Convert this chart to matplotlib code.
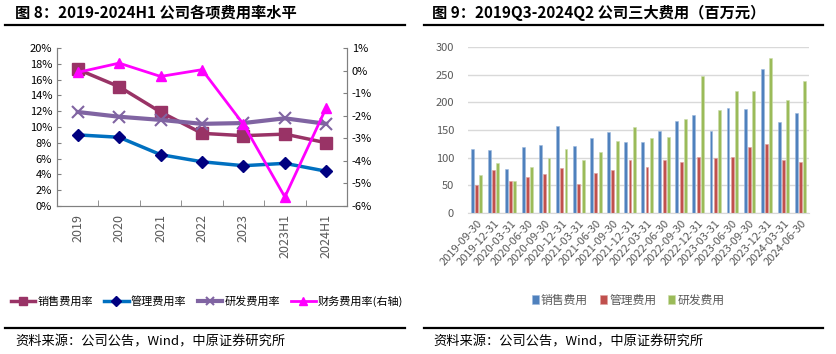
import numpy as np
import matplotlib
matplotlib.use('Agg')
import matplotlib.pyplot as plt
from matplotlib.lines import Line2D

plt.rcParams['font.family'] = ['Noto Sans CJK SC', 'DejaVu Sans']
plt.rcParams['axes.unicode_minus'] = False

# left chart data (expense ratios, %)
years = ['2019', '2020', '2021', '2022', '2023', '2023H1', '2024H1']
sales_rate = [17.3, 15.1, 11.9, 9.2, 8.9, 9.1, 8.0]
admin_rate = [9.0, 8.7, 6.5, 5.6, 5.1, 5.4, 4.4]
rd_rate = [11.9, 11.3, 10.9, 10.4, 10.5, 11.1, 10.4]
fin_rate = [-0.08, 0.33, -0.26, 0.04, -2.38, -5.6, -1.64]

# right chart data (million yuan)
quarters = ['2019-09-30', '2019-12-31', '2020-03-31', '2020-06-30', '2020-09-30',
            '2020-12-31', '2021-03-31', '2021-06-30', '2021-09-30', '2021-12-31',
            '2022-03-31', '2022-06-30', '2022-09-30', '2022-12-31', '2023-03-31',
            '2023-06-30', '2023-09-30', '2023-12-31', '2024-03-31', '2024-06-30']
sales_exp = [116, 114, 80, 120, 123, 158, 121, 136, 146, 128,
             129, 149, 166, 177, 148, 190, 188, 261, 165, 180]
admin_exp = [50, 77, 57, 65, 70, 82, 52, 72, 77, 95,
             83, 96, 93, 102, 100, 102, 119, 125, 96, 93]
rd_exp = [69, 90, 57, 83, 100, 116, 96, 111, 130, 155,
          135, 137, 169, 248, 186, 220, 220, 281, 205, 239]

W, H = 836, 354
fig = plt.figure(figsize=(W / 100, H / 100), dpi=100)

def box(x0, y0, x1, y1):
    return [x0 / W, 1 - y1 / H, (x1 - x0) / W, (y1 - y0) / H]

gray = '#595959'

# titles, rules and sources
fig.text(15 / W, 1 - 13 / H, '图 8：2019-2024H1 公司各项费用率水平', fontsize=11,
         fontweight='bold', va='center', ha='left')
fig.text(432 / W, 1 - 13 / H, '图 9：2019Q3-2024Q2 公司三大费用（百万元）', fontsize=11,
         fontweight='bold', va='center', ha='left')
for x0, x1 in [(5, 405), (424, 823)]:
    fig.add_artist(Line2D([x0 / W, x1 / W], [1 - 25 / H] * 2, color='black', lw=1.6))
    fig.add_artist(Line2D([x0 / W, x1 / W], [1 - 328 / H] * 2, color='black', lw=1.6))
fig.text(15 / W, 1 - 342 / H, '资料来源：公司公告，Wind，中原证券研究所', fontsize=9.5,
         va='center', ha='left')
fig.text(433 / W, 1 - 342 / H, '资料来源：公司公告，Wind，中原证券研究所', fontsize=9.5,
         va='center', ha='left')

# ---- left chart
ax = fig.add_axes(box(57, 48, 347, 206))
x = np.arange(len(years))
ax.plot(x, sales_rate, color='#993366', lw=2.5, marker='s', ms=8, label='销售费用率')
ax.plot(x, admin_rate, color='#0070C0', lw=2.5, marker='D', ms=6,
        mfc='#000080', mec='#000080', label='管理费用率')
ax.plot(x, rd_rate, color='#8064A2', lw=3, marker='x', ms=8, mew=1.5, label='研发费用率')
ax.set_xlim(-0.5, 6.5)
ax.set_ylim(0, 20)
ax.set_yticks(np.arange(0, 21, 2))
ax.set_yticklabels([f'{v}%' for v in range(0, 21, 2)])
ax.set_xticks(x)
ax.set_xticklabels(years, rotation=90, color=gray)
ax.set_xticks(np.arange(-0.5, 7, 1), minor=True)
ax.tick_params(axis='x', which='major', length=0, labelsize=9, pad=6)
ax.tick_params(axis='x', which='minor', direction='in', length=4, color='#808080')
ax.tick_params(axis='y', direction='in', length=3, labelsize=8, color='#808080')
ax.spines['top'].set_visible(False)
for s in ['left', 'bottom', 'right']:
    ax.spines[s].set_color('#808080')

ax2 = ax.twinx()
ax2.plot(x, fin_rate, color='#FF00FF', lw=2, marker='^', ms=7, label='财务费用率(右轴)')
ax2.set_ylim(-6, 1)
ax2.set_yticks(np.arange(-6, 2, 1))
ax2.set_yticklabels([f'{v}%' for v in range(-6, 2)])
ax2.tick_params(axis='y', direction='in', length=3, labelsize=8, color='#808080')
ax2.spines['top'].set_visible(False)
for s in ['left', 'bottom', 'right']:
    ax2.spines[s].set_color('#808080')

handles = ax.get_lines() + ax2.get_lines()
fig.legend(handles, [h.get_label() for h in handles], loc='center',
           bbox_to_anchor=(207 / W, 1 - 301 / H), ncol=4, frameon=False,
           fontsize=8, handlelength=2.2, columnspacing=1.0, handletextpad=0.2,
           markerscale=0.8)

# ---- right chart
bx = fig.add_axes(box(468, 47, 809, 213))
q = np.arange(len(quarters))
bw = 0.17
bx.bar(q - 0.25, sales_exp, bw, color='#4F81BD', edgecolor='#9DB9DD', lw=0.4, label='销售费用')
bx.bar(q, admin_exp, bw, color='#C0504D', edgecolor='#E0A09E', lw=0.4, label='管理费用')
bx.bar(q + 0.25, rd_exp, bw, color='#9BBB59', edgecolor='#CBDDAA', lw=0.4, label='研发费用')
bx.set_xlim(-0.5, 19.5)
bx.set_ylim(0, 300)
bx.set_yticks(np.arange(0, 301, 50))
bx.yaxis.grid(True, color='#D9D9D9', lw=1)
bx.set_axisbelow(True)
bx.set_xticks(q)
bx.set_xticklabels(quarters, rotation=48, ha='right', rotation_mode='anchor', color=gray)
bx.tick_params(axis='x', length=0, labelsize=8, pad=4)
bx.tick_params(axis='y', length=0, labelsize=8, colors=gray, pad=10)
for s in ['top', 'left', 'right']:
    bx.spines[s].set_visible(False)
bx.spines['bottom'].set_color('#D9D9D9')
bx.legend(loc='center', bbox_to_anchor=(628 / W, 1 - 300 / H),
          bbox_transform=fig.transFigure, ncol=3, frameon=False, fontsize=8.5,
          handlelength=0.6, handleheight=0.9, handletextpad=0.2, columnspacing=1.0,
          labelcolor=gray)

fig.savefig('out.png', dpi=100)
